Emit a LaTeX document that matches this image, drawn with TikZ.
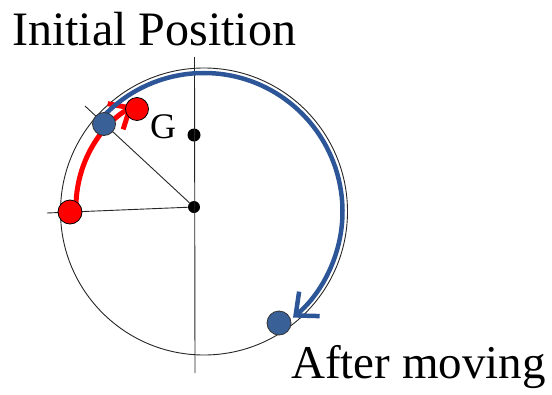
\documentclass[tikz,border=0pt]{standalone}
\usepackage{fontspec}
\setmainfont{Liberation Serif}
\usetikzlibrary{arrows.meta,calc}
\definecolor{arcblue}{RGB}{44,86,152}
\definecolor{dotblue}{RGB}{58,96,152}
\tikzset{
  thinline/.style={black!85, line width=0.9pt},
  bigdot/.style={circle, inner sep=0pt, minimum size=#1, fill=black},
  reddot/.style={circle, inner sep=0pt, minimum size=24pt, fill=red, draw=black, line width=0.8pt},
  bluedot/.style={circle, inner sep=0pt, minimum size=24pt, fill=dotblue, draw=black!80, line width=0.8pt},
  redarc/.style={red, line width=5pt, -{Straight Barb[length=17pt, width=30pt]}},
  bluearc/.style={arcblue, line width=4.5pt, -{Straight Barb[length=18pt, width=32pt]}},
  label/.style={inner sep=0pt, anchor=base west}
}
\begin{document}
\begin{tikzpicture}[x=1pt, y=-1pt]
\useasboundingbox (0,0) rectangle (552,394);
\coordinate (O) at (204,211.5);
% outer circle
\draw[thinline] (O) circle[radius=143.5];
% free ends of lines
\coordinate (vt) at (194.5,57);
\coordinate (vb) at (195,373);
\coordinate (hl) at (47,213);
\coordinate (dl) at (85,106);
% black dots
\node[bigdot=12pt] (C) at (194,207) {};
\node[bigdot=13pt] (Gd) at (194,135) {};
% lines
\draw[thinline] (vt) -- (vb);
\draw[thinline] (hl) -- (C);
\draw[thinline] (dl) -- (C);
% red arrow
\draw[redarc] ($(C)+(-178:118)$) arc[start angle=-178, end angle=-121, radius=118];
% blue arc
\draw[bluearc] ($(O)+(-139:138.5)$) arc[start angle=-139, end angle=50, radius=138.5];
% coloured dots
\node[reddot] (R1) at (70,212) {};
\node[reddot, minimum size=23pt] (R2) at (137,109) {};
\node[bluedot, minimum size=23pt] (B1) at (104,124) {};
\node[bluedot] (B2) at (279,323) {};
% texts
\node[label, font=\fontsize{48}{50}\selectfont] (t1) at (12,45) {Initial Position};
\node[label, font=\fontsize{36}{38}\selectfont] (tg) at (150,138) {G};
\node[label, font=\fontsize{47}{50}\selectfont] (t2) at (291,378) {After moving};
\end{tikzpicture}
\end{document}
